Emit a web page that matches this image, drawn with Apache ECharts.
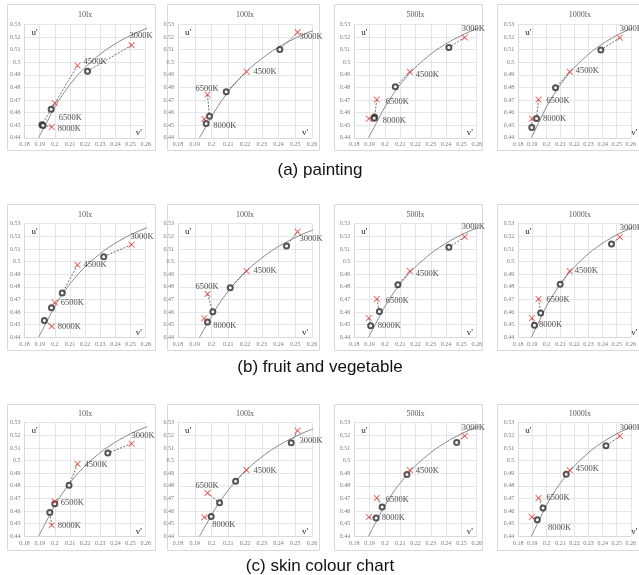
<!DOCTYPE html>
<html>
<head>
<meta charset="utf-8">
<script src="https://cdn.jsdelivr.net/npm/echarts@6/dist/echarts.min.js"></script>
<style>
  html, body { margin: 0; padding: 0; background: #fff; }
  #chart { width: 639px; height: 575px; }
</style>
</head>
<body>
<div id="chart"></div>
<script>
// ---- data ----------------------------------------------------------------
const illuminance = ['10lx', '100lx', '500lx', '1000lx'];
const cctLabels = ['3000K', '4500K', '6500K', '8000K'];
const sampleSets = ['(a) painting', '(b) fruit and vegetable', '(c) skin colour chart'];
const vTicks = [0.18, 0.19, 0.20, 0.21, 0.22, 0.23, 0.24, 0.25, 0.26];
const uTicks = [0.44, 0.45, 0.46, 0.47, 0.48, 0.49, 0.50, 0.51, 0.52, 0.53];

// blackbody locus [v, u] as drawn in the 10lx / 500lx / 1000lx charts
const locus = [[0.1893, 0.4400], [0.1946, 0.4522], [0.2005, 0.4655], [0.2070, 0.4774],
  [0.2115, 0.4845], [0.2173, 0.4925], [0.2252, 0.5015], [0.2357, 0.5113],
  [0.2505, 0.5215], [0.2624, 0.5275]];
// locus as drawn in the 100lx charts
const locus100lx = [[0.1928, 0.4400], [0.1981, 0.4522], [0.2040, 0.4655], [0.2105, 0.4774],
  [0.2150, 0.4845], [0.2208, 0.4925], [0.2287, 0.5015], [0.2392, 0.5113],
  [0.2540, 0.5215], [0.2659, 0.5275]];

// light source chromaticity per illuminance level (3000K, 4500K, 6500K, 8000K)
const target10lx   = [[0.2507, 0.5134], [0.2150, 0.4973], [0.2000, 0.4675], [0.1980, 0.4487]];
const target100lx  = [[0.2514, 0.5237], [0.2209, 0.4925], [0.1976, 0.4743], [0.1957, 0.4550]];
const target500lx  = [[0.2522, 0.5196], [0.2163, 0.4925], [0.1947, 0.4704], [0.1895, 0.4552]];
const target1000lx = [[0.2522, 0.5194], [0.2166, 0.4925], [0.1944, 0.4704], [0.1897, 0.4552]];

// perceived white point, painting
const painting10lx   = [[0.2216, 0.4929], [0.1976, 0.4627], [0.1915, 0.4505], [0.1922, 0.4498]];
const painting100lx  = [[0.2408, 0.5101], [0.2088, 0.4765], [0.1988, 0.4572], [0.1968, 0.4514]];
const painting500lx  = [[0.2418, 0.5117], [0.2068, 0.4805], [0.1932, 0.4565], [0.1930, 0.4555]];
const painting1000lx = [[0.2387, 0.5096], [0.2065, 0.4797], [0.1930, 0.4554], [0.1896, 0.4482]];

// perceived white point, fruit and vegetable
const fruit10lx   = [[0.2323, 0.5039], [0.2049, 0.4750], [0.1978, 0.4634], [0.1931, 0.4534]];
const fruit100lx  = [[0.2448, 0.5124], [0.2112, 0.4792], [0.2008, 0.4603], [0.1976, 0.4521]];
const fruit500lx  = [[0.2418, 0.5113], [0.2085, 0.4816], [0.1964, 0.4605], [0.1907, 0.4492]];
const fruit1000lx = [[0.2463, 0.5140], [0.2098, 0.4821], [0.1959, 0.4592], [0.1915, 0.4495]];

// perceived white point, skin colour chart
const skin10lx   = [[0.2350, 0.5059], [0.2094, 0.4804], [0.2000, 0.4657], [0.1967, 0.4589]];
const skin100lx  = [[0.2476, 0.5141], [0.2144, 0.4836], [0.2048, 0.4666], [0.1998, 0.4557]];
const skin500lx  = [[0.2469, 0.5143], [0.2144, 0.4889], [0.1982, 0.4632], [0.1943, 0.4545]];
const skin1000lx = [[0.2424, 0.5117], [0.2141, 0.4891], [0.1976, 0.4624], [0.1935, 0.4531]];

const locusByColumn = [locus, locus100lx, locus, locus];
const targets = [target10lx, target100lx, target500lx, target1000lx];
const measured = [
  [painting10lx, painting100lx, painting500lx, painting1000lx],
  [fruit10lx, fruit100lx, fruit500lx, fruit1000lx],
  [skin10lx, skin100lx, skin500lx, skin1000lx]
];

// ---- layout (pixels) -----------------------------------------------------
const layout = {
  colLeft: [24.5, 178, 354.3, 518.3],
  colWidth: [121.2, 134, 122.4, 123],
  rowTop: [24.3, 223.7, 422.7],
  plotH: 113.6,
  boxX: [7, 167, 334, 497],
  boxW: [148, 152, 148, 150],
  boxY: [4, 204, 404],
  boxH: 146,
  captionY: [170, 367, 566]
};

// CCT label offsets from the source marker, [dx, dy] px
const labelOffsets = [
  [[[-2, -9], [6, -4], [4, 15], [6, 2]], [[2, 5], [7, 0], [-12, -6], [9, 7]],
   [[-3, -9], [6, 3], [9, 2], [14, 2]], [[0, -9], [6, -1], [8, 1], [11, 0]]],
  [[[-1, -8], [6, 0], [6, 0], [6, 0]], [[2, 7], [7, 0], [-12, -7], [9, 7]],
   [[-3, -10], [6, 3], [9, 2], [9, 8]], [[0, -9], [5, 0], [8, 1], [7, 7]]],
  [[[0, -8], [7, 1], [6, 1], [6, 0]], [[2, 10], [7, 1], [-12, -7], [8, 7]],
   [[-3, -8], [6, 1], [9, 2], [13, 1]], [[0, -8], [6, -1], [8, 0], [16, 11]]]
];

const SERIF = '"Liberation Serif", "Times New Roman", serif';
const CROSS = 'path://M0,1L1,0L5,4L9,0L10,1L6,5L10,9L9,10L5,6L1,10L0,9L4,5Z';

const grids = [], xAxes = [], yAxes = [], series = [], graphics = [];

for (let r = 0; r < 3; r++) {
  for (let c = 0; c < 4; c++) {
    const i = r * 4 + c;
    const left = layout.colLeft[c], top = layout.rowTop[r];
    const w = layout.colWidth[c], h = layout.plotH;

    grids.push({ left: left, top: top, width: w, height: h, containLabel: false });

    xAxes.push({
      type: 'value', gridIndex: i,
      min: vTicks[0], max: vTicks[vTicks.length - 1],
      interval: Math.round((vTicks[1] - vTicks[0]) * 1000) / 1000,
      axisLine: { show: true, lineStyle: { color: '#d9d9d9', width: 1 } },
      axisTick: { show: false },
      axisLabel: { fontSize: 6, fontFamily: SERIF, color: '#7a7a7a', margin: 4,
        showMinLabel: true, showMaxLabel: true },
      splitLine: { show: true, lineStyle: { color: '#dedede', width: 0.8 } }
    });
    yAxes.push({
      type: 'value', gridIndex: i,
      min: uTicks[0], max: uTicks[uTicks.length - 1],
      interval: Math.round((uTicks[1] - uTicks[0]) * 1000) / 1000,
      axisLine: { show: true, lineStyle: { color: '#d9d9d9', width: 1 } },
      axisTick: { show: false },
      axisLabel: { fontSize: 6, fontFamily: SERIF, color: '#7a7a7a', margin: 4,
        showMinLabel: true, showMaxLabel: true },
      splitLine: { show: true, lineStyle: { color: '#dedede', width: 0.8 } }
    });

    // locus curve
    series.push({
      type: 'line', xAxisIndex: i, yAxisIndex: i, data: locusByColumn[c],
      smooth: 0.4, showSymbol: false, symbol: 'none', clip: true, silent: true,
      lineStyle: { color: '#8a8a8a', width: 1 }, z: 2
    });

    const tgt = targets[c], mes = measured[r][c];
    // dotted connectors source -> perceived
    for (let k = 0; k < 4; k++) {
      series.push({
        type: 'line', xAxisIndex: i, yAxisIndex: i, data: [tgt[k], mes[k]],
        symbol: 'none', silent: true, clip: true,
        lineStyle: { color: '#4a4a4a', width: 0.8, type: [2, 1.5] }, z: 3
      });
    }
    // perceived white points
    series.push({
      type: 'scatter', xAxisIndex: i, yAxisIndex: i, data: mes,
      symbol: 'emptyCircle', symbolSize: 5, silent: true,
      itemStyle: { color: '#2a2a2a', borderWidth: 0.9 }, z: 4
    });
    // light sources with CCT labels
    series.push({
      type: 'scatter', xAxisIndex: i, yAxisIndex: i,
      data: tgt.map((p, k) => ({
        value: p,
        label: { offset: labelOffsets[r][c][k] }
      })),
      symbol: CROSS, symbolSize: 6.5, silent: true,
      itemStyle: { color: '#e23a3a' },
      label: {
        show: true, position: 'inside', align: 'left', verticalAlign: 'middle',
        formatter: p => cctLabels[p.dataIndex],
        fontFamily: SERIF, fontSize: 8.5, color: '#1a1a1a'
      },
      z: 5
    });

    // panel frame, title and axis names
    graphics.push({
      type: 'rect', silent: true, z: -10,
      shape: { x: layout.boxX[c] + 0.5, y: layout.boxY[r] + 0.5, width: layout.boxW[c], height: layout.boxH },
      style: { fill: 'none', stroke: '#d9d9d9', lineWidth: 1 }
    });
    graphics.push({
      type: 'text', silent: true, x: left + w / 2, y: top - 9,
      style: { text: illuminance[c], font: '8px ' + SERIF, fill: '#595959', align: 'center', verticalAlign: 'middle' }
    });
    graphics.push({
      type: 'text', silent: true, x: left + 7, y: top + 8, z: 10,
      style: { text: "u'", font: '9px ' + SERIF, fill: '#1a1a1a', align: 'left', verticalAlign: 'middle' }
    });
    graphics.push({
      type: 'text', silent: true, x: left + w - 10, y: top + h - 5, z: 10,
      style: { text: "v'", font: '9px ' + SERIF, fill: '#1a1a1a', align: 'left', verticalAlign: 'middle' }
    });
  }
  graphics.push({
    type: 'text', silent: true, x: 320, y: layout.captionY[r],
    style: { text: sampleSets[r], font: '17px "Liberation Sans", Arial, sans-serif', fill: '#111', align: 'center', verticalAlign: 'middle' }
  });
}

const chart = echarts.init(document.getElementById('chart'), null, { renderer: 'canvas' });
chart.setOption({
  animation: false,
  backgroundColor: '#fff',
  grid: grids,
  xAxis: xAxes,
  yAxis: yAxes,
  series: series,
  graphic: graphics
});
</script>
</body>
</html>
